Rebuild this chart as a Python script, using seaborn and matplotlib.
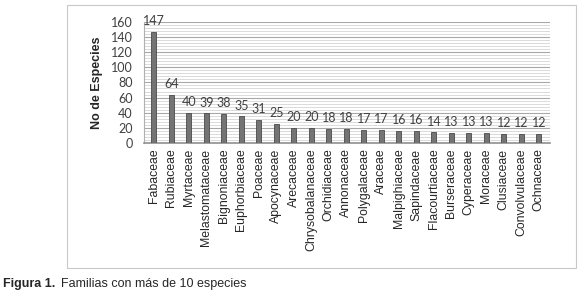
import matplotlib
matplotlib.use("Agg")
import matplotlib.pyplot as plt
import seaborn as sns
import pandas as pd
import numpy as np
from matplotlib.patches import Rectangle

# Données : familles et nombre d'espèces
familias = ["Fabaceae", "Rubiaceae", "Myrtaceae", "Melastomataceae", "Bignoniaceae",
            "Euphorbiaceae", "Poaceae", "Apocynaceae", "Arecaceae", "Chrysobalanaceae",
            "Orchidiaceae", "Annonaceae", "Polygalaceae", "Araceae", "Malpighiaceae",
            "Sapindaceae", "Flacourtiaceae", "Burseraceae", "Cyperaceae", "Moraceae",
            "Clusiaceae", "Convolvulaceae", "Ochnaceae"]
especies = [147, 64, 40, 39, 38, 35, 31, 25, 20, 20, 18, 18, 17, 17, 16, 16,
            14, 13, 13, 13, 12, 12, 12]
yticks = [0, 20, 40, 60, 80, 100, 120, 140, 160]

df = pd.DataFrame({"familia": familias, "n": especies})

sns.set_style("white")
plt.rcParams["font.family"] = ["Liberation Sans", "DejaVu Sans"]

fig = plt.figure(figsize=(5.8, 2.96), dpi=100)
ax = fig.add_axes([0.248, 0.517, 0.700, 0.409])

# Cadre gris autour du graphique
fig.patches.append(Rectangle((67 / 580, 1 - 268 / 296), (576 - 67) / 580, (268 - 5) / 296,
                             transform=fig.transFigure, fill=False,
                             edgecolor="#c8c8c8", linewidth=0.8))

sns.barplot(data=df, x="familia", y="n", color="#747474", width=0.3,
            edgecolor="#4a4a4a", linewidth=0.6, saturation=1, ax=ax, zorder=3)

ax.set_ylim(0, 160)
ax.set_xlim(-0.57, len(familias) - 1 + 0.63)
ax.set_yticks(yticks)
ax.set_yticks(np.arange(0, 161, 4), minor=True)
ax.grid(axis="y", which="minor", color="#d4d4d4", linewidth=0.6, zorder=0)
ax.grid(axis="y", which="major", color="#a8a8a8", linewidth=0.8, zorder=0)
ax.set_axisbelow(True)

for s in ["top", "right"]:
    ax.spines[s].set_visible(False)
ax.spines["left"].set_color("#b0b0b0")
ax.spines["bottom"].set_color("#909090")
ax.spines["bottom"].set_linewidth(1.2)

ax.tick_params(axis="y", which="both", length=0, labelsize=9, labelcolor="#404040", pad=8)
for lab in ax.get_yticklabels():
    lab.set_family(["Lato", "DejaVu Sans"])
ax.tick_params(axis="x", length=0, labelsize=8.8, pad=4)
ax.set_xticks(range(len(familias)))
ax.set_xticklabels(familias, rotation=90, va="top")

ax.set_xlabel("")
ax.set_ylabel("No de Especies", fontsize=9, fontweight="bold", labelpad=6)

# Étiquettes de valeurs au-dessus des barres
for i, v in enumerate(especies):
    ax.annotate(str(v), (i, v), xytext=(0, 3.5), textcoords="offset points",
                ha="center", va="bottom", fontsize=9, color="#404040",
                family=["Lato", "DejaVu Sans"], annotation_clip=False)

# Légende de la figure
yc = 1 - 284 / 296
t1 = fig.text(3 / 580, yc, "Figura 1.", fontsize=9, fontweight="bold",
              va="center", ha="left")
fig.text(61 / 580, yc, "Familias con más de 10 especies", fontsize=9,
         va="center", ha="left")

fig.savefig("out.png", dpi=100)
